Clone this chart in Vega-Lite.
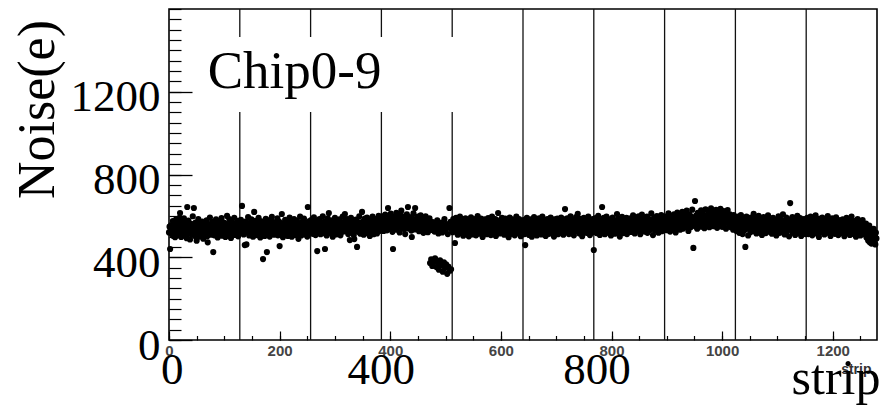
{
"$schema":"https://vega.github.io/schema/vega-lite/v6.json",
"width":708,"height":331,
"autosize":{"type":"none"},
"padding":{"left":169,"top":9,"right":9,"bottom":69},
"background":"white",
"config":{"view":{"stroke":"#000","strokeWidth":1.6},"axis":{"grid":false,"domain":false,"labelFlush":false,"labelOverlap":false,"labelBound":false,"format":"d"}},
"resolve":{"axis":{"x":"independent","y":"independent"}},
"datasets":{
"chips":[{"s":128},{"s":256},{"s":384},{"s":512},{"s":640},{"s":768},{"s":896},{"s":1024},{"s":1152}],
"box":[{"x1":56,"x2":530,"y1":1102,"y2":1465}],
"tag":[{"s":70,"n":1218,"t":"Chip0-9"}],
"noise":[
{"s":0,"n":520},{"s":1,"n":548},{"s":2,"n":440},{"s":3,"n":531},{"s":4,"n":556},{"s":5,"n":512},{"s":6,"n":540},{"s":7,"n":575},{"s":8,"n":503},{"s":9,"n":529},{"s":10,"n":561},{"s":11,"n":497},{"s":12,"n":544},{"s":13,"n":583},{"s":14,"n":518},{"s":15,"n":536},{"s":16,"n":569},{"s":17,"n":507},{"s":18,"n":552},{"s":19,"n":590},{"s":20,"n":614},{"s":21,"n":526},{"s":22,"n":498},{"s":23,"n":547},{"s":24,"n":571},{"s":25,"n":514},{"s":26,"n":533},{"s":27,"n":588},{"s":28,"n":505},{"s":29,"n":549},{"s":30,"n":526},{"s":31,"n":566},{"s":32,"n":492},{"s":33,"n":643},{"s":34,"n":538},{"s":35,"n":577},{"s":36,"n":515},{"s":37,"n":553},{"s":38,"n":486},{"s":39,"n":530},{"s":40,"n":562},{"s":41,"n":509},{"s":42,"n":545},{"s":43,"n":598},{"s":44,"n":521},{"s":45,"n":638},{"s":46,"n":541},{"s":47,"n":503},{"s":48,"n":568},{"s":49,"n":532},{"s":50,"n":480},{"s":51,"n":554},{"s":52,"n":519},{"s":53,"n":585},{"s":54,"n":537},{"s":55,"n":500},{"s":56,"n":560},{"s":57,"n":527},{"s":58,"n":546},{"s":59,"n":508},{"s":60,"n":573},{"s":61,"n":534},{"s":62,"n":490},{"s":63,"n":551},
{"s":64,"n":528},{"s":65,"n":563},{"s":66,"n":511},{"s":67,"n":547},{"s":68,"n":579},{"s":69,"n":502},{"s":70,"n":472},{"s":71,"n":539},{"s":72,"n":558},{"s":73,"n":516},{"s":74,"n":592},{"s":75,"n":534},{"s":76,"n":509},{"s":77,"n":550},{"s":78,"n":571},{"s":79,"n":524},{"s":80,"n":425},{"s":81,"n":545},{"s":82,"n":506},{"s":83,"n":566},{"s":84,"n":531},{"s":85,"n":583},{"s":86,"n":518},{"s":87,"n":541},{"s":88,"n":496},{"s":89,"n":557},{"s":90,"n":527},{"s":91,"n":574},{"s":92,"n":512},{"s":93,"n":549},{"s":94,"n":536},{"s":95,"n":589},{"s":96,"n":504},{"s":97,"n":552},{"s":98,"n":530},{"s":99,"n":568},{"s":100,"n":515},{"s":101,"n":543},{"s":102,"n":498},{"s":103,"n":561},{"s":104,"n":529},{"s":105,"n":600},{"s":106,"n":538},{"s":107,"n":510},{"s":108,"n":556},{"s":109,"n":584},{"s":110,"n":521},{"s":111,"n":547},{"s":112,"n":493},{"s":113,"n":535},{"s":114,"n":570},{"s":115,"n":514},{"s":116,"n":552},{"s":117,"n":527},{"s":118,"n":591},{"s":119,"n":508},{"s":120,"n":544},{"s":121,"n":562},{"s":122,"n":519},{"s":123,"n":537},{"s":124,"n":576},{"s":125,"n":501},{"s":126,"n":548},{"s":127,"n":532},
{"s":128,"n":555},{"s":129,"n":518},{"s":130,"n":581},{"s":131,"n":536},{"s":132,"n":648},{"s":133,"n":527},{"s":134,"n":563},{"s":135,"n":510},{"s":136,"n":547},{"s":137,"n":459},{"s":138,"n":572},{"s":139,"n":531},{"s":140,"n":462},{"s":141,"n":558},{"s":142,"n":521},{"s":143,"n":594},{"s":144,"n":539},{"s":145,"n":505},{"s":146,"n":566},{"s":147,"n":528},{"s":148,"n":550},{"s":149,"n":583},{"s":150,"n":514},{"s":151,"n":542},{"s":152,"n":499},{"s":153,"n":561},{"s":154,"n":619},{"s":155,"n":533},{"s":156,"n":576},{"s":157,"n":517},{"s":158,"n":548},{"s":159,"n":507},{"s":160,"n":569},{"s":161,"n":535},{"s":162,"n":590},{"s":163,"n":522},{"s":164,"n":553},{"s":165,"n":496},{"s":166,"n":540},{"s":167,"n":574},{"s":168,"n":512},{"s":169,"n":557},{"s":170,"n":391},{"s":171,"n":530},{"s":172,"n":565},{"s":173,"n":503},{"s":174,"n":545},{"s":175,"n":586},{"s":176,"n":526},{"s":177,"n":425},{"s":178,"n":551},{"s":179,"n":518},{"s":180,"n":578},{"s":181,"n":537},{"s":182,"n":500},{"s":183,"n":563},{"s":184,"n":529},{"s":185,"n":548},{"s":186,"n":595},{"s":187,"n":515},{"s":188,"n":542},{"s":189,"n":570},{"s":190,"n":509},{"s":191,"n":554},
{"s":192,"n":534},{"s":193,"n":567},{"s":194,"n":520},{"s":195,"n":549},{"s":196,"n":588},{"s":197,"n":506},{"s":198,"n":541},{"s":199,"n":573},{"s":200,"n":454},{"s":201,"n":529},{"s":202,"n":559},{"s":203,"n":514},{"s":204,"n":609},{"s":205,"n":538},{"s":206,"n":497},{"s":207,"n":565},{"s":208,"n":524},{"s":209,"n":552},{"s":210,"n":581},{"s":211,"n":511},{"s":212,"n":546},{"s":213,"n":532},{"s":214,"n":575},{"s":215,"n":503},{"s":216,"n":557},{"s":217,"n":526},{"s":218,"n":592},{"s":219,"n":517},{"s":220,"n":543},{"s":221,"n":568},{"s":222,"n":499},{"s":223,"n":535},{"s":224,"n":561},{"s":225,"n":521},{"s":226,"n":584},{"s":227,"n":540},{"s":228,"n":508},{"s":229,"n":553},{"s":230,"n":530},{"s":231,"n":577},{"s":232,"n":513},{"s":233,"n":548},{"s":234,"n":489},{"s":235,"n":562},{"s":236,"n":527},{"s":237,"n":596},{"s":238,"n":541},{"s":239,"n":505},{"s":240,"n":570},{"s":241,"n":533},{"s":242,"n":555},{"s":243,"n":518},{"s":244,"n":587},{"s":245,"n":544},{"s":246,"n":510},{"s":247,"n":566},{"s":248,"n":528},{"s":249,"n":551},{"s":250,"n":500},{"s":251,"n":643},{"s":252,"n":537},{"s":253,"n":574},{"s":254,"n":522},{"s":255,"n":558},
{"s":256,"n":547},{"s":257,"n":580},{"s":258,"n":526},{"s":259,"n":561},{"s":260,"n":513},{"s":261,"n":552},{"s":262,"n":593},{"s":263,"n":534},{"s":264,"n":569},{"s":265,"n":507},{"s":266,"n":548},{"s":267,"n":575},{"s":268,"n":430},{"s":269,"n":539},{"s":270,"n":562},{"s":271,"n":520},{"s":272,"n":585},{"s":273,"n":544},{"s":274,"n":511},{"s":275,"n":566},{"s":276,"n":531},{"s":277,"n":556},{"s":278,"n":598},{"s":279,"n":517},{"s":280,"n":549},{"s":281,"n":572},{"s":282,"n":440},{"s":283,"n":536},{"s":284,"n":563},{"s":285,"n":505},{"s":286,"n":551},{"s":287,"n":588},{"s":288,"n":528},{"s":289,"n":614},{"s":290,"n":541},{"s":291,"n":570},{"s":292,"n":516},{"s":293,"n":557},{"s":294,"n":533},{"s":295,"n":579},{"s":296,"n":499},{"s":297,"n":546},{"s":298,"n":565},{"s":299,"n":522},{"s":300,"n":591},{"s":301,"n":538},{"s":302,"n":510},{"s":303,"n":560},{"s":304,"n":529},{"s":305,"n":574},{"s":306,"n":553},{"s":307,"n":518},{"s":308,"n":583},{"s":309,"n":540},{"s":310,"n":506},{"s":311,"n":567},{"s":312,"n":531},{"s":313,"n":555},{"s":314,"n":596},{"s":315,"n":524},{"s":316,"n":548},{"s":317,"n":571},{"s":318,"n":609},{"s":319,"n":537},
{"s":320,"n":562},{"s":321,"n":526},{"s":322,"n":585},{"s":323,"n":545},{"s":324,"n":512},{"s":325,"n":568},{"s":326,"n":533},{"s":327,"n":483},{"s":328,"n":557},{"s":329,"n":590},{"s":330,"n":540},{"s":331,"n":519},{"s":332,"n":576},{"s":333,"n":552},{"s":334,"n":507},{"s":335,"n":488},{"s":336,"n":564},{"s":337,"n":530},{"s":338,"n":582},{"s":339,"n":546},{"s":340,"n":450},{"s":341,"n":571},{"s":342,"n":523},{"s":343,"n":559},{"s":344,"n":598},{"s":345,"n":537},{"s":346,"n":514},{"s":347,"n":566},{"s":348,"n":549},{"s":349,"n":619},{"s":350,"n":532},{"s":351,"n":575},{"s":352,"n":509},{"s":353,"n":554},{"s":354,"n":587},{"s":355,"n":528},{"s":356,"n":561},{"s":357,"n":543},{"s":358,"n":592},{"s":359,"n":517},{"s":360,"n":570},{"s":361,"n":536},{"s":362,"n":553},{"s":363,"n":503},{"s":364,"n":579},{"s":365,"n":547},{"s":366,"n":521},{"s":367,"n":563},{"s":368,"n":596},{"s":369,"n":539},{"s":370,"n":511},{"s":371,"n":574},{"s":372,"n":550},{"s":373,"n":530},{"s":374,"n":584},{"s":375,"n":557},{"s":376,"n":515},{"s":377,"n":567},{"s":378,"n":542},{"s":379,"n":600},{"s":380,"n":527},{"s":381,"n":560},{"s":382,"n":535},{"s":383,"n":578},
{"s":384,"n":571},{"s":385,"n":540},{"s":386,"n":598},{"s":387,"n":556},{"s":388,"n":527},{"s":389,"n":583},{"s":390,"n":562},{"s":391,"n":606},{"s":392,"n":545},{"s":393,"n":577},{"s":394,"n":530},{"s":395,"n":568},{"s":396,"n":638},{"s":397,"n":552},{"s":398,"n":590},{"s":399,"n":536},{"s":400,"n":574},{"s":401,"n":611},{"s":402,"n":548},{"s":403,"n":582},{"s":404,"n":523},{"s":405,"n":440},{"s":406,"n":566},{"s":407,"n":596},{"s":408,"n":541},{"s":409,"n":579},{"s":410,"n":557},{"s":411,"n":615},{"s":412,"n":533},{"s":413,"n":570},{"s":414,"n":592},{"s":415,"n":549},{"s":416,"n":586},{"s":417,"n":520},{"s":418,"n":563},{"s":419,"n":602},{"s":420,"n":625},{"s":421,"n":544},{"s":422,"n":575},{"s":423,"n":558},{"s":424,"n":597},{"s":425,"n":537},{"s":426,"n":568},{"s":427,"n":512},{"s":428,"n":584},{"s":429,"n":551},{"s":430,"n":608},{"s":431,"n":561},{"s":432,"n":643},{"s":433,"n":539},{"s":434,"n":577},{"s":435,"n":594},{"s":436,"n":546},{"s":437,"n":571},{"s":438,"n":529},{"s":439,"n":498},{"s":440,"n":588},{"s":441,"n":555},{"s":442,"n":612},{"s":443,"n":566},{"s":444,"n":534},{"s":445,"n":638},{"s":446,"n":580},{"s":447,"n":548},
{"s":448,"n":573},{"s":449,"n":541},{"s":450,"n":597},{"s":451,"n":559},{"s":452,"n":526},{"s":453,"n":585},{"s":454,"n":562},{"s":455,"n":603},{"s":456,"n":537},{"s":457,"n":571},{"s":458,"n":549},{"s":459,"n":590},{"s":460,"n":518},{"s":461,"n":566},{"s":462,"n":580},{"s":463,"n":543},{"s":464,"n":598},{"s":465,"n":555},{"s":466,"n":530},{"s":467,"n":576},{"s":468,"n":521},{"s":469,"n":563},{"s":470,"n":545},{"s":471,"n":588},{"s":472,"n":372},{"s":473,"n":558},{"s":474,"n":390},{"s":475,"n":532},{"s":476,"n":358},{"s":477,"n":570},{"s":478,"n":547},{"s":479,"n":380},{"s":480,"n":524},{"s":481,"n":395},{"s":482,"n":561},{"s":483,"n":540},{"s":484,"n":352},{"s":485,"n":578},{"s":486,"n":372},{"s":487,"n":515},{"s":488,"n":340},{"s":489,"n":553},{"s":490,"n":385},{"s":491,"n":535},{"s":492,"n":362},{"s":493,"n":567},{"s":494,"n":520},{"s":495,"n":330},{"s":496,"n":549},{"s":497,"n":376},{"s":498,"n":585},{"s":499,"n":348},{"s":500,"n":528},{"s":501,"n":366},{"s":502,"n":560},{"s":503,"n":320},{"s":504,"n":512},{"s":505,"n":355},{"s":506,"n":543},{"s":507,"n":638},{"s":508,"n":335},{"s":509,"n":571},{"s":510,"n":342},{"s":511,"n":533},
{"s":512,"n":556},{"s":513,"n":521},{"s":514,"n":584},{"s":515,"n":540},{"s":516,"n":567},{"s":517,"n":469},{"s":518,"n":552},{"s":519,"n":590},{"s":520,"n":528},{"s":521,"n":563},{"s":522,"n":509},{"s":523,"n":576},{"s":524,"n":545},{"s":525,"n":531},{"s":526,"n":597},{"s":527,"n":558},{"s":528,"n":517},{"s":529,"n":570},{"s":530,"n":538},{"s":531,"n":582},{"s":532,"n":504},{"s":533,"n":549},{"s":534,"n":565},{"s":535,"n":524},{"s":536,"n":588},{"s":537,"n":542},{"s":538,"n":513},{"s":539,"n":574},{"s":540,"n":533},{"s":541,"n":559},{"s":542,"n":501},{"s":543,"n":579},{"s":544,"n":546},{"s":545,"n":520},{"s":546,"n":593},{"s":547,"n":537},{"s":548,"n":562},{"s":549,"n":510},{"s":550,"n":571},{"s":551,"n":548},{"s":552,"n":527},{"s":553,"n":585},{"s":554,"n":554},{"s":555,"n":506},{"s":556,"n":568},{"s":557,"n":539},{"s":558,"n":599},{"s":559,"n":523},{"s":560,"n":557},{"s":561,"n":575},{"s":562,"n":514},{"s":563,"n":544},{"s":564,"n":587},{"s":565,"n":530},{"s":566,"n":561},{"s":567,"n":498},{"s":568,"n":572},{"s":569,"n":541},{"s":570,"n":519},{"s":571,"n":583},{"s":572,"n":550},{"s":573,"n":534},{"s":574,"n":566},{"s":575,"n":511},
{"s":576,"n":553},{"s":577,"n":589},{"s":578,"n":526},{"s":579,"n":564},{"s":580,"n":541},{"s":581,"n":577},{"s":582,"n":507},{"s":583,"n":548},{"s":584,"n":596},{"s":585,"n":532},{"s":586,"n":560},{"s":587,"n":518},{"s":588,"n":573},{"s":589,"n":544},{"s":590,"n":585},{"s":591,"n":503},{"s":592,"n":555},{"s":593,"n":529},{"s":594,"n":568},{"s":595,"n":614},{"s":596,"n":538},{"s":597,"n":562},{"s":598,"n":515},{"s":599,"n":580},{"s":600,"n":547},{"s":601,"n":524},{"s":602,"n":591},{"s":603,"n":557},{"s":604,"n":533},{"s":605,"n":571},{"s":606,"n":509},{"s":607,"n":550},{"s":608,"n":587},{"s":609,"n":536},{"s":610,"n":565},{"s":611,"n":520},{"s":612,"n":578},{"s":613,"n":545},{"s":614,"n":497},{"s":615,"n":559},{"s":616,"n":592},{"s":617,"n":528},{"s":618,"n":567},{"s":619,"n":542},{"s":620,"n":513},{"s":621,"n":583},{"s":622,"n":551},{"s":623,"n":530},{"s":624,"n":575},{"s":625,"n":506},{"s":626,"n":561},{"s":627,"n":538},{"s":628,"n":597},{"s":629,"n":525},{"s":630,"n":569},{"s":631,"n":548},{"s":632,"n":516},{"s":633,"n":584},{"s":634,"n":543},{"s":635,"n":558},{"s":636,"n":502},{"s":637,"n":573},{"s":638,"n":535},{"s":639,"n":564},
{"s":640,"n":528},{"s":641,"n":580},{"s":642,"n":549},{"s":643,"n":512},{"s":644,"n":459},{"s":645,"n":566},{"s":646,"n":537},{"s":647,"n":590},{"s":648,"n":521},{"s":649,"n":555},{"s":650,"n":574},{"s":651,"n":508},{"s":652,"n":546},{"s":653,"n":583},{"s":654,"n":531},{"s":655,"n":562},{"s":656,"n":499},{"s":657,"n":570},{"s":658,"n":541},{"s":659,"n":516},{"s":660,"n":594},{"s":661,"n":552},{"s":662,"n":527},{"s":663,"n":568},{"s":664,"n":543},{"s":665,"n":505},{"s":666,"n":577},{"s":667,"n":535},{"s":668,"n":559},{"s":669,"n":588},{"s":670,"n":519},{"s":671,"n":550},{"s":672,"n":572},{"s":673,"n":510},{"s":674,"n":544},{"s":675,"n":597},{"s":676,"n":532},{"s":677,"n":563},{"s":678,"n":522},{"s":679,"n":579},{"s":680,"n":548},{"s":681,"n":503},{"s":682,"n":566},{"s":683,"n":539},{"s":684,"n":585},{"s":685,"n":526},{"s":686,"n":556},{"s":687,"n":513},{"s":688,"n":574},{"s":689,"n":545},{"s":690,"n":592},{"s":691,"n":529},{"s":692,"n":561},{"s":693,"n":517},{"s":694,"n":571},{"s":695,"n":538},{"s":696,"n":500},{"s":697,"n":583},{"s":698,"n":553},{"s":699,"n":524},{"s":700,"n":566},{"s":701,"n":542},{"s":702,"n":587},{"s":703,"n":511},
{"s":704,"n":557},{"s":705,"n":530},{"s":706,"n":578},{"s":707,"n":545},{"s":708,"n":516},{"s":709,"n":592},{"s":710,"n":561},{"s":711,"n":535},{"s":712,"n":574},{"s":713,"n":509},{"s":714,"n":551},{"s":715,"n":583},{"s":716,"n":633},{"s":717,"n":540},{"s":718,"n":566},{"s":719,"n":522},{"s":720,"n":588},{"s":721,"n":547},{"s":722,"n":575},{"s":723,"n":512},{"s":724,"n":559},{"s":725,"n":531},{"s":726,"n":598},{"s":727,"n":543},{"s":728,"n":569},{"s":729,"n":520},{"s":730,"n":581},{"s":731,"n":553},{"s":732,"n":506},{"s":733,"n":572},{"s":734,"n":538},{"s":735,"n":563},{"s":736,"n":594},{"s":737,"n":527},{"s":738,"n":556},{"s":739,"n":610},{"s":740,"n":541},{"s":741,"n":577},{"s":742,"n":515},{"s":743,"n":550},{"s":744,"n":586},{"s":745,"n":533},{"s":746,"n":564},{"s":747,"n":502},{"s":748,"n":571},{"s":749,"n":546},{"s":750,"n":590},{"s":751,"n":524},{"s":752,"n":558},{"s":753,"n":580},{"s":754,"n":537},{"s":755,"n":518},{"s":756,"n":569},{"s":757,"n":548},{"s":758,"n":596},{"s":759,"n":529},{"s":760,"n":562},{"s":761,"n":507},{"s":762,"n":576},{"s":763,"n":543},{"s":764,"n":555},{"s":765,"n":521},{"s":766,"n":585},{"s":767,"n":539},
{"s":768,"n":435},{"s":769,"n":566},{"s":770,"n":530},{"s":771,"n":589},{"s":772,"n":552},{"s":773,"n":517},{"s":774,"n":575},{"s":775,"n":544},{"s":776,"n":600},{"s":777,"n":527},{"s":778,"n":561},{"s":779,"n":508},{"s":780,"n":579},{"s":781,"n":548},{"s":782,"n":535},{"s":783,"n":643},{"s":784,"n":568},{"s":785,"n":522},{"s":786,"n":590},{"s":787,"n":555},{"s":788,"n":511},{"s":789,"n":573},{"s":790,"n":541},{"s":791,"n":596},{"s":792,"n":529},{"s":793,"n":562},{"s":794,"n":584},{"s":795,"n":518},{"s":796,"n":551},{"s":797,"n":576},{"s":798,"n":537},{"s":799,"n":505},{"s":800,"n":568},{"s":801,"n":545},{"s":802,"n":592},{"s":803,"n":526},{"s":804,"n":558},{"s":805,"n":580},{"s":806,"n":514},{"s":807,"n":547},{"s":808,"n":571},{"s":809,"n":533},{"s":810,"n":609},{"s":811,"n":560},{"s":812,"n":521},{"s":813,"n":586},{"s":814,"n":550},{"s":815,"n":500},{"s":816,"n":574},{"s":817,"n":539},{"s":818,"n":563},{"s":819,"n":595},{"s":820,"n":528},{"s":821,"n":556},{"s":822,"n":517},{"s":823,"n":582},{"s":824,"n":546},{"s":825,"n":569},{"s":826,"n":534},{"s":827,"n":591},{"s":828,"n":512},{"s":829,"n":559},{"s":830,"n":543},{"s":831,"n":577},
{"s":832,"n":561},{"s":833,"n":534},{"s":834,"n":588},{"s":835,"n":550},{"s":836,"n":522},{"s":837,"n":579},{"s":838,"n":556},{"s":839,"n":603},{"s":840,"n":540},{"s":841,"n":571},{"s":842,"n":515},{"s":843,"n":563},{"s":844,"n":592},{"s":845,"n":546},{"s":846,"n":574},{"s":847,"n":529},{"s":848,"n":557},{"s":849,"n":598},{"s":850,"n":537},{"s":851,"n":583},{"s":852,"n":511},{"s":853,"n":566},{"s":854,"n":549},{"s":855,"n":606},{"s":856,"n":532},{"s":857,"n":570},{"s":858,"n":553},{"s":859,"n":588},{"s":860,"n":524},{"s":861,"n":560},{"s":862,"n":578},{"s":863,"n":541},{"s":864,"n":597},{"s":865,"n":518},{"s":866,"n":564},{"s":867,"n":547},{"s":868,"n":585},{"s":869,"n":531},{"s":870,"n":572},{"s":871,"n":556},{"s":872,"n":612},{"s":873,"n":538},{"s":874,"n":575},{"s":875,"n":507},{"s":876,"n":561},{"s":877,"n":590},{"s":878,"n":545},{"s":879,"n":528},{"s":880,"n":580},{"s":881,"n":552},{"s":882,"n":599},{"s":883,"n":535},{"s":884,"n":568},{"s":885,"n":519},{"s":886,"n":586},{"s":887,"n":558},{"s":888,"n":542},{"s":889,"n":575},{"s":890,"n":604},{"s":891,"n":526},{"s":892,"n":563},{"s":893,"n":548},{"s":894,"n":591},{"s":895,"n":533},
{"s":896,"n":570},{"s":897,"n":544},{"s":898,"n":597},{"s":899,"n":558},{"s":900,"n":531},{"s":901,"n":586},{"s":902,"n":566},{"s":903,"n":612},{"s":904,"n":548},{"s":905,"n":579},{"s":906,"n":524},{"s":907,"n":571},{"s":908,"n":600},{"s":909,"n":553},{"s":910,"n":583},{"s":911,"n":539},{"s":912,"n":565},{"s":913,"n":608},{"s":914,"n":547},{"s":915,"n":592},{"s":916,"n":520},{"s":917,"n":575},{"s":918,"n":559},{"s":919,"n":616},{"s":920,"n":541},{"s":921,"n":584},{"s":922,"n":567},{"s":923,"n":598},{"s":924,"n":533},{"s":925,"n":572},{"s":926,"n":590},{"s":927,"n":552},{"s":928,"n":620},{"s":929,"n":538},{"s":930,"n":579},{"s":931,"n":561},{"s":932,"n":603},{"s":933,"n":546},{"s":934,"n":588},{"s":935,"n":570},{"s":936,"n":625},{"s":937,"n":551},{"s":938,"n":594},{"s":939,"n":527},{"s":940,"n":575},{"s":941,"n":607},{"s":942,"n":562},{"s":943,"n":545},{"s":944,"n":596},{"s":945,"n":568},{"s":946,"n":630},{"s":947,"n":555},{"s":948,"n":445},{"s":949,"n":587},{"s":950,"n":572},{"s":951,"n":672},{"s":952,"n":549},{"s":953,"n":601},{"s":954,"n":583},{"s":955,"n":538},{"s":956,"n":615},{"s":957,"n":566},{"s":958,"n":593},{"s":959,"n":559},
{"s":960,"n":605},{"s":961,"n":571},{"s":962,"n":627},{"s":963,"n":548},{"s":964,"n":589},{"s":965,"n":612},{"s":966,"n":563},{"s":967,"n":598},{"s":968,"n":540},{"s":969,"n":584},{"s":970,"n":632},{"s":971,"n":569},{"s":972,"n":601},{"s":973,"n":554},{"s":974,"n":591},{"s":975,"n":618},{"s":976,"n":576},{"s":977,"n":545},{"s":978,"n":608},{"s":979,"n":580},{"s":980,"n":636},{"s":981,"n":561},{"s":982,"n":597},{"s":983,"n":573},{"s":984,"n":620},{"s":985,"n":550},{"s":986,"n":588},{"s":987,"n":606},{"s":988,"n":567},{"s":989,"n":629},{"s":990,"n":583},{"s":991,"n":542},{"s":992,"n":603},{"s":993,"n":574},{"s":994,"n":615},{"s":995,"n":558},{"s":996,"n":592},{"s":997,"n":634},{"s":998,"n":570},{"s":999,"n":599},{"s":1000,"n":547},{"s":1001,"n":610},{"s":1002,"n":586},{"s":1003,"n":623},{"s":1004,"n":563},{"s":1005,"n":596},{"s":1006,"n":577},{"s":1007,"n":538},{"s":1008,"n":611},{"s":1009,"n":584},{"s":1010,"n":628},{"s":1011,"n":566},{"s":1012,"n":593},{"s":1013,"n":552},{"s":1014,"n":607},{"s":1015,"n":575},{"s":1016,"n":545},{"s":1017,"n":598},{"s":1018,"n":571},{"s":1019,"n":586},{"s":1020,"n":533},{"s":1021,"n":604},{"s":1022,"n":562},{"s":1023,"n":580},
{"s":1024,"n":548},{"s":1025,"n":583},{"s":1026,"n":527},{"s":1027,"n":569},{"s":1028,"n":541},{"s":1029,"n":596},{"s":1030,"n":555},{"s":1031,"n":518},{"s":1032,"n":578},{"s":1033,"n":546},{"s":1034,"n":604},{"s":1035,"n":533},{"s":1036,"n":566},{"s":1037,"n":512},{"s":1038,"n":587},{"s":1039,"n":552},{"s":1040,"n":529},{"s":1041,"n":574},{"s":1042,"n":450},{"s":1043,"n":561},{"s":1044,"n":597},{"s":1045,"n":538},{"s":1046,"n":570},{"s":1047,"n":505},{"s":1048,"n":557},{"s":1049,"n":584},{"s":1050,"n":543},{"s":1051,"n":521},{"s":1052,"n":592},{"s":1053,"n":563},{"s":1054,"n":536},{"s":1055,"n":579},{"s":1056,"n":550},{"s":1057,"n":610},{"s":1058,"n":526},{"s":1059,"n":567},{"s":1060,"n":545},{"s":1061,"n":589},{"s":1062,"n":515},{"s":1063,"n":558},{"s":1064,"n":576},{"s":1065,"n":534},{"s":1066,"n":600},{"s":1067,"n":553},{"s":1068,"n":520},{"s":1069,"n":582},{"s":1070,"n":548},{"s":1071,"n":568},{"s":1072,"n":508},{"s":1073,"n":574},{"s":1074,"n":540},{"s":1075,"n":594},{"s":1076,"n":530},{"s":1077,"n":562},{"s":1078,"n":586},{"s":1079,"n":517},{"s":1080,"n":555},{"s":1081,"n":571},{"s":1082,"n":537},{"s":1083,"n":603},{"s":1084,"n":549},{"s":1085,"n":524},{"s":1086,"n":580},{"s":1087,"n":559},
{"s":1088,"n":536},{"s":1089,"n":572},{"s":1090,"n":514},{"s":1091,"n":558},{"s":1092,"n":590},{"s":1093,"n":543},{"s":1094,"n":566},{"s":1095,"n":522},{"s":1096,"n":581},{"s":1097,"n":549},{"s":1098,"n":505},{"s":1099,"n":575},{"s":1100,"n":532},{"s":1101,"n":563},{"s":1102,"n":598},{"s":1103,"n":541},{"s":1104,"n":518},{"s":1105,"n":586},{"s":1106,"n":554},{"s":1107,"n":527},{"s":1108,"n":569},{"s":1109,"n":545},{"s":1110,"n":607},{"s":1111,"n":533},{"s":1112,"n":560},{"s":1113,"n":510},{"s":1114,"n":577},{"s":1115,"n":548},{"s":1116,"n":592},{"s":1117,"n":524},{"s":1118,"n":565},{"s":1119,"n":539},{"s":1120,"n":583},{"s":1121,"n":501},{"s":1122,"n":556},{"s":1123,"n":662},{"s":1124,"n":573},{"s":1125,"n":530},{"s":1126,"n":548},{"s":1127,"n":594},{"s":1128,"n":519},{"s":1129,"n":562},{"s":1130,"n":540},{"s":1131,"n":580},{"s":1132,"n":508},{"s":1133,"n":553},{"s":1134,"n":571},{"s":1135,"n":535},{"s":1136,"n":600},{"s":1137,"n":546},{"s":1138,"n":516},{"s":1139,"n":567},{"s":1140,"n":529},{"s":1141,"n":589},{"s":1142,"n":551},{"s":1143,"n":503},{"s":1144,"n":576},{"s":1145,"n":542},{"s":1146,"n":561},{"s":1147,"n":521},{"s":1148,"n":585},{"s":1149,"n":538},{"s":1150,"n":557},{"s":1151,"n":512},
{"s":1152,"n":568},{"s":1153,"n":533},{"s":1154,"n":590},{"s":1155,"n":547},{"s":1156,"n":512},{"s":1157,"n":575},{"s":1158,"n":556},{"s":1159,"n":528},{"s":1160,"n":597},{"s":1161,"n":540},{"s":1162,"n":563},{"s":1163,"n":506},{"s":1164,"n":581},{"s":1165,"n":549},{"s":1166,"n":523},{"s":1167,"n":570},{"s":1168,"n":537},{"s":1169,"n":603},{"s":1170,"n":552},{"s":1171,"n":515},{"s":1172,"n":578},{"s":1173,"n":544},{"s":1174,"n":561},{"s":1175,"n":498},{"s":1176,"n":586},{"s":1177,"n":531},{"s":1178,"n":566},{"s":1179,"n":548},{"s":1180,"n":520},{"s":1181,"n":592},{"s":1182,"n":557},{"s":1183,"n":536},{"s":1184,"n":573},{"s":1185,"n":510},{"s":1186,"n":550},{"s":1187,"n":582},{"s":1188,"n":527},{"s":1189,"n":564},{"s":1190,"n":543},{"s":1191,"n":599},{"s":1192,"n":518},{"s":1193,"n":558},{"s":1194,"n":577},{"s":1195,"n":534},{"s":1196,"n":503},{"s":1197,"n":569},{"s":1198,"n":546},{"s":1199,"n":588},{"s":1200,"n":525},{"s":1201,"n":560},{"s":1202,"n":539},{"s":1203,"n":574},{"s":1204,"n":513},{"s":1205,"n":552},{"s":1206,"n":593},{"s":1207,"n":530},{"s":1208,"n":566},{"s":1209,"n":545},{"s":1210,"n":507},{"s":1211,"n":580},{"s":1212,"n":541},{"s":1213,"n":562},{"s":1214,"n":521},{"s":1215,"n":575},
{"s":1216,"n":548},{"s":1217,"n":516},{"s":1218,"n":583},{"s":1219,"n":537},{"s":1220,"n":560},{"s":1221,"n":502},{"s":1222,"n":571},{"s":1223,"n":543},{"s":1224,"n":527},{"s":1225,"n":590},{"s":1226,"n":551},{"s":1227,"n":519},{"s":1228,"n":566},{"s":1229,"n":534},{"s":1230,"n":578},{"s":1231,"n":508},{"s":1232,"n":555},{"s":1233,"n":540},{"s":1234,"n":597},{"s":1235,"n":523},{"s":1236,"n":562},{"s":1237,"n":547},{"s":1238,"n":512},{"s":1239,"n":575},{"s":1240,"n":531},{"s":1241,"n":558},{"s":1242,"n":499},{"s":1243,"n":569},{"s":1244,"n":538},{"s":1245,"n":585},{"s":1246,"n":516},{"s":1247,"n":552},{"s":1248,"n":529},{"s":1249,"n":573},{"s":1250,"n":505},{"s":1251,"n":546},{"s":1252,"n":564},{"s":1253,"n":522},{"s":1254,"n":580},{"s":1255,"n":535},{"s":1256,"n":556},{"s":1257,"n":511},{"s":1258,"n":541},{"s":1259,"n":527},{"s":1260,"n":563},{"s":1261,"n":496},{"s":1262,"n":532},{"s":1263,"n":548},{"s":1264,"n":481},{"s":1265,"n":520},{"s":1266,"n":553},{"s":1267,"n":473},{"s":1268,"n":507},{"s":1269,"n":528},{"s":1270,"n":466},{"s":1271,"n":498},{"s":1272,"n":515},{"s":1273,"n":470},{"s":1274,"n":537},{"s":1275,"n":485},{"s":1276,"n":502},{"s":1277,"n":462},{"s":1278,"n":519},{"s":1279,"n":491}
]},
"layer":[
{"data":{"name":"chips"},"mark":{"type":"rule","color":"#111","strokeWidth":1.3},
 "encoding":{"x":{"field":"s","type":"quantitative","scale":{"domain":[0,1280],"nice":false,"zero":false},
  "axis":{"orient":"bottom","values":[0,50,100,150,200,250,300,350,400,450,500,550,600,650,700,750,800,850,900,950,1000,1050,1100,1150,1200,1250],"tickSize":-4.5,"tickColor":"#000","tickWidth":1.2,"labels":false,
   "title":"strip","titleFont":"Liberation Sans","titleFontWeight":"bold","titleFontSize":14,"titleColor":"#333","titleX":702,"titleY":33,"titleAlign":"right","titleBaseline":"alphabetic"}}}},
{"data":{"name":"box"},"mark":{"type":"rect","fill":"white","stroke":null},
 "encoding":{"x":{"field":"x1","type":"quantitative","scale":{"domain":[0,1280],"nice":false,"zero":false},
   "axis":{"orient":"bottom","values":[0,200,400,600,800,1000,1200],"tickSize":-9,"tickColor":"#000","tickWidth":1.2,"labels":false,"title":null}},
  "x2":{"field":"x2"},
  "y":{"field":"y1","type":"quantitative","scale":{"domain":[0,1600],"nice":false,"zero":false},
   "axis":{"orient":"left","values":[0,50,100,150,200,250,300,350,400,450,500,550,600,650,700,750,800,850,900,950,1000,1050,1100,1150,1200,1250,1300,1350,1400,1450,1500,1550,1600],"tickSize":-12,"tickColor":"#000","tickWidth":1.2,"labels":false,"title":null}},
  "y2":{"field":"y2"}}},
{"data":{"name":"tag"},"mark":{"type":"text","align":"left","baseline":"alphabetic","font":"Liberation Serif","fontSize":53,"color":"#000"},
 "encoding":{"x":{"field":"s","type":"quantitative","scale":{"domain":[0,1280],"nice":false,"zero":false},
   "axis":{"orient":"bottom","values":[0,200,400,600,800,1000,1200],"format":"d","ticks":false,"labelFont":"Liberation Sans","labelFontWeight":"bold","labelFontSize":15,"labelColor":"#444","labelPadding":15,"labelBaseline":"alphabetic","title":null}},
  "y":{"field":"n","type":"quantitative","scale":{"domain":[0,1600],"nice":false,"zero":false},
   "axis":{"orient":"left","values":[0,400,800,1200],"tickSize":-23,"tickColor":"#000","tickWidth":1.3,"labels":false,"title":null}},
  "text":{"field":"t"}}},
{"data":{"name":"noise"},"mark":{"type":"point","filled":true,"shape":"circle","size":38,"color":"#000","opacity":1},
 "encoding":{"x":{"field":"s","type":"quantitative","scale":{"domain":[0,1280],"nice":false,"zero":false},
   "axis":{"orient":"bottom","values":[5,383,773],"labelExpr":"datum.value < 100 ? '0' : datum.value < 500 ? '400' : '800'","ticks":false,"labelFont":"Liberation Serif","labelFontSize":45,"labelColor":"#000","labelPadding":43,"labelBaseline":"alphabetic",
    "title":"strip","titleFont":"Liberation Serif","titleFontSize":50,"titleFontWeight":"normal","titleColor":"#000","titleX":711,"titleY":53,"titleAlign":"right","titleBaseline":"alphabetic"}},
  "y":{"field":"n","type":"quantitative","scale":{"domain":[0,1600],"nice":false,"zero":false},
   "axis":{"orient":"left","values":[0,400,800,1200],"format":"d","ticks":false,"labelFont":"Liberation Serif","labelFontSize":45,"labelColor":"#000","labelPadding":9,"labelBaseline":"alphabetic","labelOffset":19,
    "title":"Noise(e)","titleFont":"Liberation Serif","titleFontSize":52,"titleFontWeight":"normal","titleColor":"#000","titleAngle":-90,"titleX":-116,"titleY":100,"titleAlign":"center","titleBaseline":"alphabetic"}}}}
]
}
